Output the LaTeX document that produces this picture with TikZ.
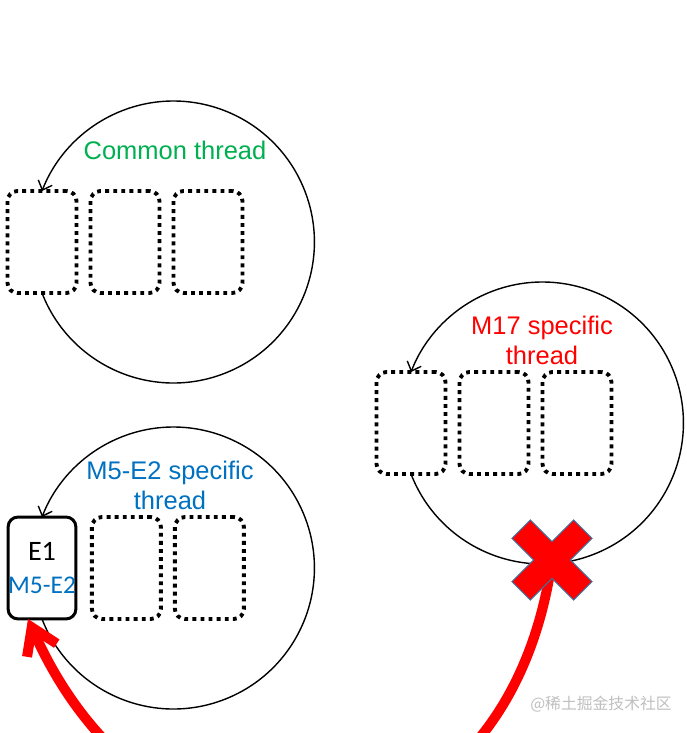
\documentclass[tikz,border=0pt]{standalone}
\usepackage{fontspec}
\setmainfont{Liberation Sans}
\newfontfamily\calib{Carlito}
\newfontfamily\cjk{Noto Sans CJK SC}
\usetikzlibrary{arrows.meta, positioning}
\definecolor{cgreen}{HTML}{00B050}
\definecolor{cblue}{HTML}{0070C0}
\definecolor{cred}{HTML}{FF0000}
\definecolor{cedge}{HTML}{41719C}
\tikzset{
  every picture/.style={line width=0.8pt},
  slot/.style={draw, fill=white, line width=2.2pt, dash pattern=on 2.2pt off 2.4pt, rounded corners=0.2cm, minimum width=1.38cm, minimum height=2.04cm, inner sep=0pt, outer sep=0pt},
  slotE/.style={slot, solid, line width=1.7pt, minimum width=1.34cm, font=\calib\fontsize{14.5}{19}\selectfont, align=center},
  ring/.style={-{Straight Barb[length=1.6mm, width=3mm]}, line width=0.8pt},
  title/.style={font=\fontsize{14.5}{17}\selectfont, align=center},
  redarrow/.style={-{Straight Barb[length=0.5cm, width=0.65cm]}, draw=cred, line width=5.7pt},
  xmark/.style={fill=cred, draw=cedge, line width=0.6pt},
  wm/.style={font=\cjk\fontsize{9}{10}\selectfont, text=gray!50},
}

\begin{document}
\begin{tikzpicture}[x=0.02cm, y=0.02cm]
  \useasboundingbox (0,0) rectangle (686,733);
  \clip (0,0) rectangle (686,733);
  % common thread
  \node[slot] (c1) at (42,491) {};
  \node[slot, right=0.28cm of c1] (c2) {};
  \node[slot, right=0.28cm of c2] (c3) {};
  \draw[ring] (c1.south) arc[start angle=-158.8, end angle=158.8, radius=2.82cm];
  \node[title, text=cgreen] (ctitle) at (175,583) {Common thread};
  % M5-E2 thread
  \node[slotE] (e1) at (42,165) {{\fontsize{16}{19}\selectfont E1}\\\textcolor{cblue}{M5-E2}};
  \node[slot, right=0.32cm of e1] (e2) {};
  \node[slot, right=0.28cm of e2] (e3) {};
  \draw[ring] (e1.south) arc[start angle=-158.8, end angle=158.8, radius=2.82cm];
  \node[title, text=cblue] (etitle) at (170,248) {M5-E2 specific\\thread};
  % M17 thread
  \node[slot] (m1) at (411,310) {};
  \node[slot, right=0.28cm of m1] (m2) {};
  \node[slot, right=0.28cm of m2] (m3) {};
  \draw[ring] (m1.south) arc[start angle=-158.8, end angle=158.8, radius=2.82cm];
  \node[title, text=cred] (mtitle) at (542,393) {M17 specific\\thread};
  % blocked move
  \coordinate (xm) at (552,173);
  \draw[redarrow] (xm) to[out=-98, in=-66, looseness=1.6] ([xshift=-0.28cm]e1.south);
  \begin{scope}[shift={(xm)}, rotate=45]
    \filldraw[xmark] (-13,43.6) -- (13,43.6) -- (13,13) -- (43.6,13) -- (43.6,-13) -- (13,-13)
      -- (13,-43.6) -- (-13,-43.6) -- (-13,-13) -- (-43.6,-13) -- (-43.6,13) -- (-13,13) -- cycle;
  \end{scope}
  \node[wm] (mark) at (601,29) {@稀土掘金技术社区};
\end{tikzpicture}
\end{document}
